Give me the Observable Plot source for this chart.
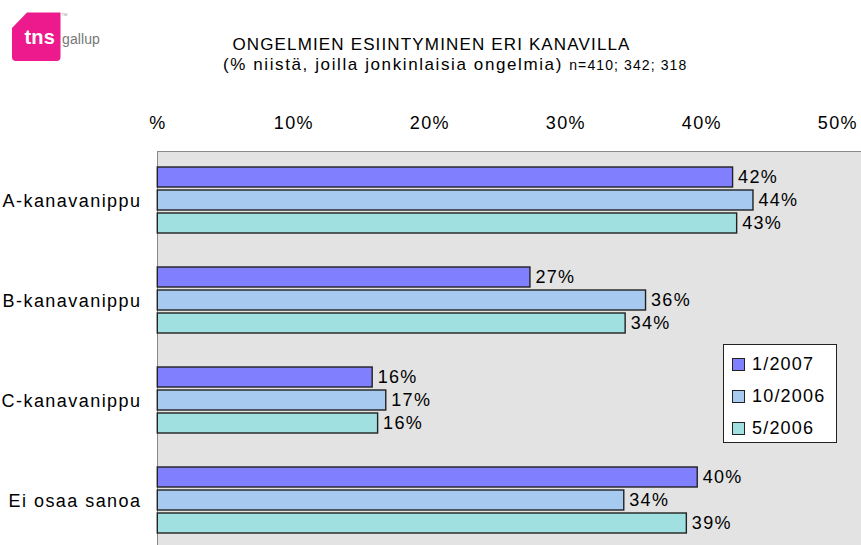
<!DOCTYPE html>
<html>
<head>
<meta charset="utf-8">
<script src="https://cdn.jsdelivr.net/npm/d3@7"></script>
<script src="https://cdn.jsdelivr.net/npm/@observablehq/plot@0.6"></script>
<style>
  html, body { margin: 0; padding: 0; background: #fff; }
  #wrap { position: relative; width: 861px; height: 545px; overflow: hidden; background: #fff;
          font-family: "Liberation Sans", Arial, sans-serif; }
  #bg { position: absolute; left: 157px; top: 151px; right: -2px; bottom: -2px;
        background: #e3e3e3; border-top: 1.5px solid #8a8a8a; border-left: 1.5px solid #8a8a8a; box-sizing: border-box; }
  #chart { position: absolute; left: 0; top: 0; }
  #chart g[aria-label="fy-axis tick label"] { letter-spacing: 1.45px; }
  #header { position: absolute; left: 0; top: 0; }
  #legend { position: absolute; left: 723px; top: 344px; width: 114px; height: 99px; box-sizing: border-box;
            background: #fff; border: 1px solid #222; padding-top: 3px; }
  .item { position: relative; height: 32px; line-height: 32px; font-size: 18px; letter-spacing: 1.2px; color: #000; padding-left: 28px; }
  .sw { position: absolute; left: 8px; top: 10px; width: 11px; height: 11px; border: 1px solid #222; }
</style>
</head>
<body>
<div id="wrap">
  <div id="bg"></div>
  <div id="chart"></div>
  <svg id="header" width="861" height="100" xmlns="http://www.w3.org/2000/svg">
    <path d="M12,28 L27,12.5 L60.5,12.5 L60.5,57 Q60.5,61 56.5,61 L16,61 Q12,61 12,57 Z" fill="#ec1a8c"/>
    <text x="24.5" y="43.5" fill="#fff" font-family="Liberation Sans, Arial" font-weight="bold" font-size="20" letter-spacing="0.2">tns</text>
    <text x="61.5" y="16" fill="#999" font-family="Liberation Sans, Arial" font-size="4">TM</text>
    <text x="62" y="44" fill="#777" font-family="Liberation Sans, Arial" font-size="14" letter-spacing="0.1">gallup</text>
    <text id="title" x="431.5" y="50" text-anchor="middle" font-family="Liberation Sans, Arial" font-size="17" letter-spacing="1.15" fill="#000"></text>
    <text id="subtitle" x="223" y="70" font-family="Liberation Sans, Arial" font-size="17" letter-spacing="1.6" fill="#000"></text>
  </svg>
  <div id="legend"></div>
</div>
<script>
// ---- data ----
const titleText = "ONGELMIEN ESIINTYMINEN ERI KANAVILLA";
const subtitleText = "(% niistä, joilla jonkinlaisia ongelmia)";
const sampleText = "n=410; 342; 318";
const categories = ["A-kanavanippu", "B-kanavanippu", "C-kanavanippu", "Ei osaa sanoa"];
const series = ["1/2007", "10/2006", "5/2006"];
const values_1_2007 = [42.3, 27.4, 15.8, 39.7];
const values_10_2006 = [43.8, 35.9, 16.8, 34.3];
const values_5_2006 = [42.6, 34.4, 16.2, 38.9];
const seriesColors = ["#8080ff", "#a6caf0", "#a0e0e0"];
const xTicks = [0, 10, 20, 30, 40, 50];
const xTickLabels = ["%", "10%", "20%", "30%", "40%", "50%"];

// ---- build ----
const seriesValues = [values_1_2007, values_10_2006, values_5_2006];
const rows = categories.flatMap((c, i) =>
  series.map((s, j) => ({category: c, series: s, value: seriesValues[j][i]}))
);

document.getElementById("title").textContent = titleText;
const sub = document.getElementById("subtitle");
sub.textContent = subtitleText + " ";
const ts = document.createElementNS("http://www.w3.org/2000/svg", "tspan");
ts.setAttribute("font-size", "14");
ts.setAttribute("letter-spacing", "1.1");
ts.textContent = sampleText;
sub.appendChild(ts);

const chart = Plot.plot({
  width: 861,
  height: 545,
  marginLeft: 157,
  marginRight: 0,
  marginTop: 151,
  marginBottom: 0,
  facet: {margin: 0},
  style: {fontFamily: "'Liberation Sans', Arial, sans-serif", fontSize: "18px", color: "#000", background: "transparent", overflow: "hidden", letterSpacing: "1.3px"},
  x: {domain: [0, 50], range: [157.3, 837.3], axis: "top", ticks: xTicks,
      tickFormat: d => xTickLabels[xTicks.indexOf(d)], tickSize: 0, tickPadding: 23, label: null},
  fy: {domain: categories, range: [151, 551], padding: 0, axis: "left", tickSize: 0, tickPadding: 16, label: null},
  y: {domain: series, axis: null, paddingInner: 0.11, paddingOuter: 0, insetTop: 16.3, insetBottom: 17},
  color: {domain: series, range: seriesColors},
  marks: [
    Plot.barX(rows, {fy: "category", y: "series", x: "value", fill: "series", stroke: "#222", strokeWidth: 1.4}),
    Plot.text(rows, {fy: "category", y: "series", x: "value", text: d => d3.format(".0f")(d.value) + "%",
                     dx: 5, textAnchor: "start", fill: "#000", fontSize: 18})
  ]
});
document.getElementById("chart").appendChild(chart);

const legend = document.getElementById("legend");
series.forEach((s, j) => {
  const it = document.createElement("div");
  it.className = "item";
  const sw = document.createElement("span");
  sw.className = "sw";
  sw.style.background = seriesColors[j];
  it.appendChild(sw);
  it.appendChild(document.createTextNode(s));
  legend.appendChild(it);
});
</script>
</body>
</html>
